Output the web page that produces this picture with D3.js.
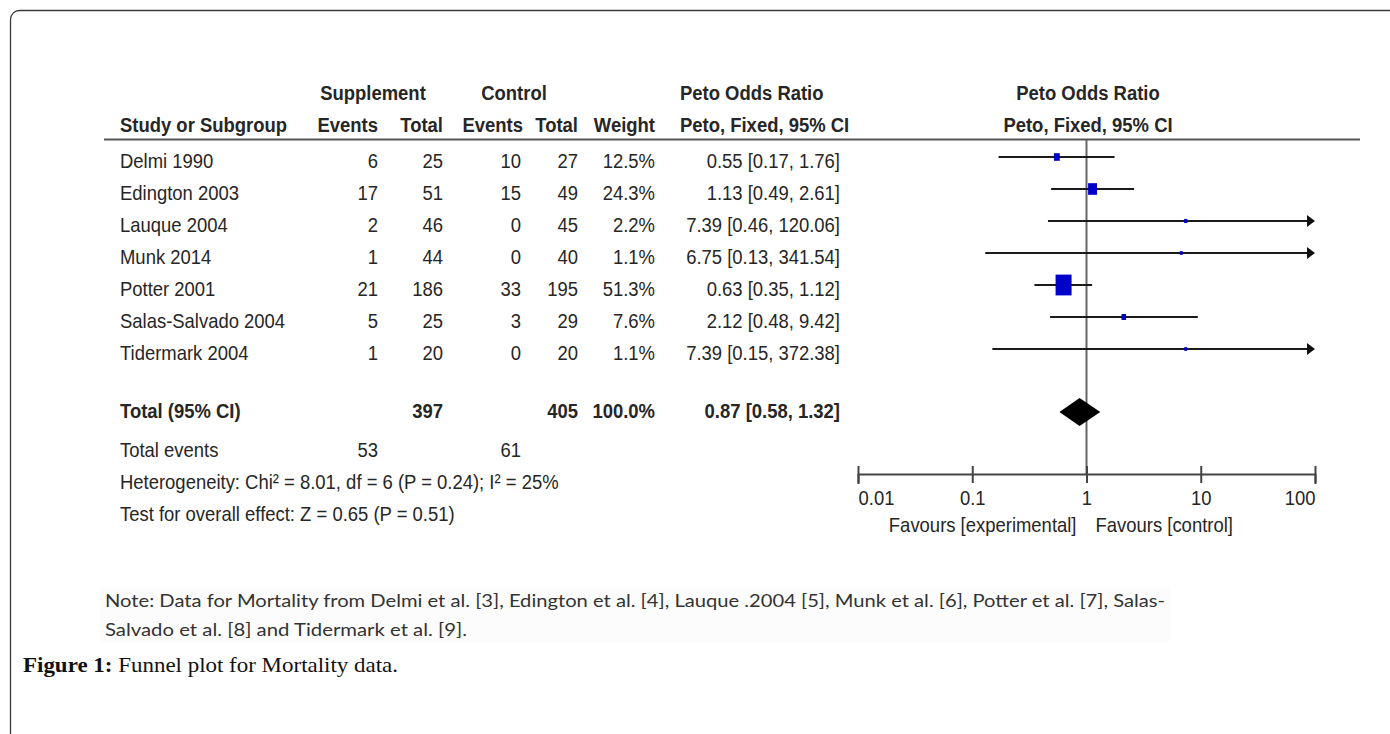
<!DOCTYPE html>
<html>
<head>
<meta charset="utf-8">
<script src="https://cdn.jsdelivr.net/npm/d3@7"></script>
<style>
  html, body { margin: 0; padding: 0; background: #fff; }
  svg { display: block; }
</style>
</head>
<body>
<svg id="chart" width="1390" height="734"></svg>
<script>
// ---------------- data ----------------
const studies     = ["Delmi 1990", "Edington 2003", "Lauque 2004", "Munk 2014", "Potter 2001", "Salas-Salvado 2004", "Tidermark 2004"];
const suppEvents  = [6, 17, 2, 1, 21, 5, 1];
const suppTotal   = [25, 51, 46, 44, 186, 25, 20];
const ctrlEvents  = [10, 15, 0, 0, 33, 3, 0];
const ctrlTotal   = [27, 49, 45, 40, 195, 29, 20];
const weights     = [12.5, 24.3, 2.2, 1.1, 51.3, 7.6, 1.1];
const orValues    = [0.55, 1.13, 7.39, 6.75, 0.63, 2.12, 7.39];
const ciLower     = [0.17, 0.49, 0.46, 0.13, 0.35, 0.48, 0.15];
const ciUpper     = [1.76, 2.61, 120.06, 341.54, 1.12, 9.42, 372.38];
const totalOR     = [0.87, 0.58, 1.32];   // estimate, lower, upper
const totalN      = [397, 405];            // supplement, control
const totalWeight = 100.0;
const totalEvents = [53, 61];
const axisTicks   = [0.01, 0.1, 1, 10, 100];
const axisLabels  = ["0.01", "0.1", "1", "10", "100"];
const heterogeneityText = "Heterogeneity: Chi² = 8.01, df = 6 (P = 0.24); I² = 25%";
const overallText = "Test for overall effect: Z = 0.65 (P = 0.51)";
const favourLeft  = "Favours [experimental]";
const favourRight = "Favours [control]";
const noteLines   = ["Note: Data for Mortality from Delmi et al. [3], Edington et al. [4], Lauque .2004 [5], Munk et al. [6], Potter et al. [7], Salas-",
                     "Salvado et al. [8] and Tidermark et al. [9]."];

// ---------------- setup ----------------
const svg = d3.select("#chart");
const FONT = "'Liberation Sans', Arial, sans-serif";
const FS = 20.5, SX = 0.9, TXT = "#262626";

// frame
svg.append("rect").attr("x", 10.5).attr("y", 10.5).attr("width", 1420).attr("height", 800)
  .attr("rx", 9).attr("fill", "none").attr("stroke", "#3a3a3a").attr("stroke-width", 1.3);

const g = svg.append("g");

function txt(x, y, s, anchor, bold) {
  return g.append("text")
    .attr("transform", `translate(${x},${y}) scale(${SX},1)`)
    .attr("text-anchor", anchor || "start")
    .attr("font-family", FONT).attr("font-size", FS)
    .attr("font-weight", bold ? "bold" : "normal")
    .attr("fill", TXT)
    .text(s);
}

// scales
const x = d3.scaleLog().domain([0.01, 100]).range([858, 1315]);
const y = d3.scaleBand().domain(studies).range([141, 365]);
const rowY = s => y(s) + y.bandwidth() / 2;
const sqW = d3.scaleLinear().domain([0, d3.max(weights)]).range([2.6, 16]);

// column anchors (right-aligned numbers)
const col = { study: 120, sEv: 378, sTot: 443, cEv: 521, cTot: 578, wt: 655, or: 840 };

// ---------------- header ----------------
txt(373, 100, "Supplement", "middle", true);
txt(514, 100, "Control", "middle", true);
txt(680, 100, "Peto Odds Ratio", "start", true);
txt(1088, 100, "Peto Odds Ratio", "middle", true);

txt(col.study, 132, "Study or Subgroup", "start", true);
txt(col.sEv, 132, "Events", "end", true);
txt(col.sTot, 132, "Total", "end", true);
txt(col.cEv + 2, 132, "Events", "end", true);
txt(col.cTot, 132, "Total", "end", true);
txt(col.wt, 132, "Weight", "end", true);
txt(680, 132, "Peto, Fixed, 95% CI", "start", true);
txt(1088, 132, "Peto, Fixed, 95% CI", "middle", true);

g.append("line").attr("x1", 104).attr("x2", 1360).attr("y1", 139.5).attr("y2", 139.5)
  .attr("stroke", "#555").attr("stroke-width", 2);

// ---------------- study rows ----------------
const fmt2 = d3.format(".2f");
studies.forEach((s, i) => {
  const ty = rowY(s) + 10.5;
  txt(col.study, ty, s, "start");
  txt(col.sEv, ty, suppEvents[i], "end");
  txt(col.sTot, ty, suppTotal[i], "end");
  txt(col.cEv, ty, ctrlEvents[i], "end");
  txt(col.cTot, ty, ctrlTotal[i], "end");
  txt(col.wt, ty, weights[i].toFixed(1) + "%", "end");
  txt(col.or, ty, `${fmt2(orValues[i])} [${fmt2(ciLower[i])}, ${fmt2(ciUpper[i])}]`, "end");
});

// ---------------- totals ----------------
const totY = 418;
txt(col.study, totY, "Total (95% CI)", "start", true);
txt(col.sTot, totY, totalN[0], "end", true);
txt(col.cTot, totY, totalN[1], "end", true);
txt(col.wt, totY, totalWeight.toFixed(1) + "%", "end", true);
txt(col.or, totY, `${fmt2(totalOR[0])} [${fmt2(totalOR[1])}, ${fmt2(totalOR[2])}]`, "end", true);

txt(col.study, 456.5, "Total events", "start");
txt(col.sEv, 456.5, totalEvents[0], "end");
txt(col.cEv, 456.5, totalEvents[1], "end");
txt(col.study, 488.5, heterogeneityText, "start");
txt(col.study, 520.5, overallText, "start");

// ---------------- forest plot ----------------
const axisY = 474;
// line of no effect
g.append("line").attr("x1", x(1)).attr("x2", x(1)).attr("y1", 140).attr("y2", axisY)
  .attr("stroke", "#666").attr("stroke-width", 2);

const [dMin, dMax] = x.domain();
studies.forEach((s, i) => {
  const cy = rowY(s);
  const lo = Math.max(ciLower[i], dMin), hi = Math.min(ciUpper[i], dMax);
  const arrowR = ciUpper[i] > dMax, arrowL = ciLower[i] < dMin;
  const x1 = x(lo) + (arrowL ? 6 : 0), x2 = x(hi) - (arrowR ? 6 : 0);
  g.append("line").attr("x1", x1).attr("x2", x2).attr("y1", cy).attr("y2", cy)
    .attr("stroke", "#1a1a1a").attr("stroke-width", 2.2);
  if (arrowR) {
    const xe = x(hi);
    g.append("path").attr("d", `M${xe},${cy} L${xe - 8},${cy - 6} L${xe - 8},${cy + 6} Z`).attr("fill", "#111");
  }
  if (arrowL) {
    const xs = x(lo);
    g.append("path").attr("d", `M${xs},${cy} L${xs + 8},${cy - 6} L${xs + 8},${cy + 6} Z`).attr("fill", "#111");
  }
  const w = sqW(weights[i]), h = w * 1.3;
  g.append("rect").attr("x", x(orValues[i]) - w / 2).attr("y", cy - h / 2)
    .attr("width", w).attr("height", h).attr("fill", "#0000c8");
});

// overall diamond
const dy = 412, dh = 14;
g.append("path")
  .attr("d", `M${x(totalOR[1])},${dy} L${x(totalOR[0])},${dy - dh} L${x(totalOR[2])},${dy} L${x(totalOR[0])},${dy + dh} Z`)
  .attr("fill", "#000");

// axis
const axis = d3.axisBottom(x).tickValues(axisTicks)
  .tickFormat((d, i) => axisLabels[i]).tickSizeOuter(0).tickSize(10);
const ax = g.append("g").attr("transform", `translate(0,${axisY})`).call(axis);
ax.select(".domain").attr("stroke", "#444").attr("stroke-width", 2);
ax.selectAll(".tick line").attr("y1", -8).attr("y2", 9).attr("stroke", "#444").attr("stroke-width", 2);
ax.selectAll(".tick text")
  .attr("y", null).attr("dy", null)
  .attr("transform", `translate(0,30.5) scale(${SX},1)`)
  .attr("font-family", FONT).attr("font-size", FS).attr("fill", TXT)
  .attr("text-anchor", (d, i) => i === 0 ? "start" : (i === axisTicks.length - 1 ? "end" : "middle"));

txt(x(1) - 10, 531.5, favourLeft, "end");
txt(x(1) + 9, 531.5, favourRight, "start");

// ---------------- note ----------------
svg.append("rect").attr("x", 100).attr("y", 586).attr("width", 1070).attr("height", 56).attr("fill", "#fcfcfc");
const noteW = [1060, 362];
noteLines.forEach((l, i) => {
  svg.append("text").attr("x", 105).attr("y", 607 + i * 29)
    .attr("font-family", "Lato, 'Open Sans', sans-serif").attr("font-size", 17)
    .attr("fill", "#333").attr("textLength", noteW[i]).attr("lengthAdjust", "spacingAndGlyphs")
    .text(l);
});

// ---------------- caption ----------------
const cap = svg.append("text").attr("x", 23).attr("y", 672)
  .attr("font-family", "'Liberation Serif', 'DejaVu Serif', serif").attr("font-size", 21)
  .attr("fill", "#111").attr("textLength", 375).attr("lengthAdjust", "spacingAndGlyphs");
cap.append("tspan").attr("font-weight", "bold").text("Figure 1:");
cap.append("tspan").text(" Funnel plot for Mortality data.");
</script>
</body>
</html>
